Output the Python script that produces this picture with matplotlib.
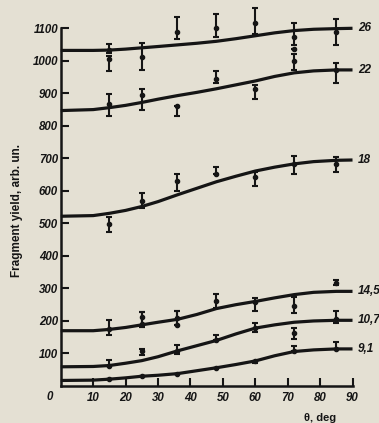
import numpy as np
import matplotlib
matplotlib.use("Agg")
import matplotlib.pyplot as plt

# smooth curves
theta_line = [0, 10, 15, 20, 25, 30, 36, 42, 48, 54, 60, 66, 72, 78, 85, 90]
curve_26 = [1032, 1032, 1033, 1036, 1040, 1044, 1049, 1054, 1060, 1068, 1077, 1086, 1093, 1097, 1099, 1100]
curve_22 = [847, 850, 856, 863, 872, 882, 893, 903, 914, 926, 938, 952, 963, 969, 972, 972]
curve_18 = [522, 524, 531, 540, 552, 567, 588, 608, 628, 645, 661, 673, 683, 690, 694, 695]
curve_145 = [170, 170, 174, 180, 188, 196, 205, 220, 238, 250, 260, 271, 281, 288, 291, 291]
curve_107 = [59, 60, 63, 70, 78, 90, 108, 124, 140, 160, 178, 188, 196, 200, 202, 202]
curve_91 = [17, 18, 21, 25, 30, 33, 38, 47, 56, 66, 77, 93, 106, 111, 114, 114]

# measured points: angle, value, lower end of bar, upper end of bar
th_26 = [15, 15, 25, 36, 48, 60, 72, 72, 72, 85]
y_26 = [1032, 1005, 1011, 1089, 1102, 1116, 1073, 1035, 1000, 1089]
lo_26 = [1025, 969, 971, 1068, 1073, 1084, 1050, 1035, 971, 1049]
hi_26 = [1051, 1015, 1054, 1135, 1143, 1161, 1116, 1035, 1020, 1129]

th_22 = [15, 25, 36, 48, 60, 85]
y_22 = [866, 895, 861, 943, 914, 971]
lo_22 = [829, 850, 829, 931, 882, 931]
hi_22 = [898, 914, 861, 969, 927, 993]

th_18 = [15, 25, 36, 48, 60, 72, 85]
y_18 = [497, 569, 630, 653, 643, 683, 683]
lo_18 = [474, 546, 600, 653, 616, 653, 658]
hi_18 = [521, 593, 651, 673, 658, 708, 703]

th_145 = [15, 25, 25, 36, 36, 48, 60, 72, 85]
y_145 = [175, 211, 190, 209, 188, 262, 257, 246, 318]
lo_145 = [156, 180, 180, 188, 188, 241, 232, 225, 310]
hi_145 = [204, 227, 227, 230, 230, 283, 270, 273, 327]

th_107 = [15, 25, 36, 48, 60, 72, 85]
y_107 = [63, 109, 109, 140, 178, 162, 205]
lo_107 = [63, 94, 98, 140, 167, 146, 193]
hi_107 = [80, 115, 125, 156, 194, 178, 230]

th_91 = [15, 25, 36, 48, 60, 72, 85]
y_91 = [21, 30, 37, 56, 77, 109, 114]
lo_91 = [21, 30, 37, 56, 70, 109, 114]
hi_91 = [21, 30, 37, 56, 77, 124, 135]

curve_names = ["26", "22", "18", "14,5", "10,7", "9,1"]

bg = "#e4e0d3"
ink = "#151515"

plt.rcParams['font.family'] = ['Liberation Sans', 'DejaVu Sans']

fig = plt.figure(figsize=(3.79, 4.23), dpi=100, facecolor=bg)
ax = fig.add_axes([0.1604, 0.0875, 0.7697, 0.8456], facecolor=bg)

curves = [curve_26, curve_22, curve_18, curve_145, curve_107, curve_91]
for c, name in zip(curves, curve_names):
    ax.plot(theta_line, c, color=ink, lw=2.3, clip_on=False, solid_capstyle='butt')
    ax.text(91.6, c[-1], name, fontsize=8.5, fontweight='bold', fontstyle='italic',
            color=ink, va='center', ha='left', clip_on=False)

points = [(th_26, y_26, lo_26, hi_26), (th_22, y_22, lo_22, hi_22),
          (th_18, y_18, lo_18, hi_18), (th_145, y_145, lo_145, hi_145),
          (th_107, y_107, lo_107, hi_107), (th_91, y_91, lo_91, hi_91)]
for th, y, lo, hi in points:
    y = np.array(y)
    err = [y - np.array(lo), np.array(hi) - y]
    ax.errorbar(th, y, yerr=err, fmt='o', ms=3.0, color=ink, ecolor=ink,
                elinewidth=1.5, capsize=2.5, capthick=1.5, clip_on=False)

ax.set_xlim(0, 90)
ax.set_ylim(0, 1100)
ax.spines['top'].set_visible(False)
ax.spines['right'].set_visible(False)
ax.spines['left'].set_linewidth(1.8)
ax.spines['bottom'].set_linewidth(1.8)
ax.spines['left'].set_color(ink)
ax.spines['bottom'].set_color(ink)

ax.set_xticks(range(10, 91, 10))
ax.set_yticks(range(100, 1101, 100))
ax.tick_params(direction='in', length=5.5, width=1.5, color=ink, labelcolor=ink)
ax.tick_params(axis='x', pad=4)
ax.tick_params(axis='y', pad=2)
for lab in ax.get_xticklabels() + ax.get_yticklabels():
    lab.set_fontsize(8.3)
    lab.set_fontweight('bold')
    lab.set_fontstyle('italic')

fig.text(50 / 379, 1 - 397 / 423, "0", fontsize=8.3, fontweight='bold', fontstyle='italic',
         color=ink, ha='center', va='center')
fig.text(17 / 379, 1 - 210 / 423, "Fragment yield, arb. un.", fontsize=8.5,
         fontweight='bold', color=ink, rotation=90, ha='center', va='center')
fig.text(320 / 379, 1 - 418 / 423, "θ, deg", fontsize=8, fontweight='bold',
         color=ink, ha='center', va='center')

fig.savefig("out.png", dpi=100, facecolor=bg)
